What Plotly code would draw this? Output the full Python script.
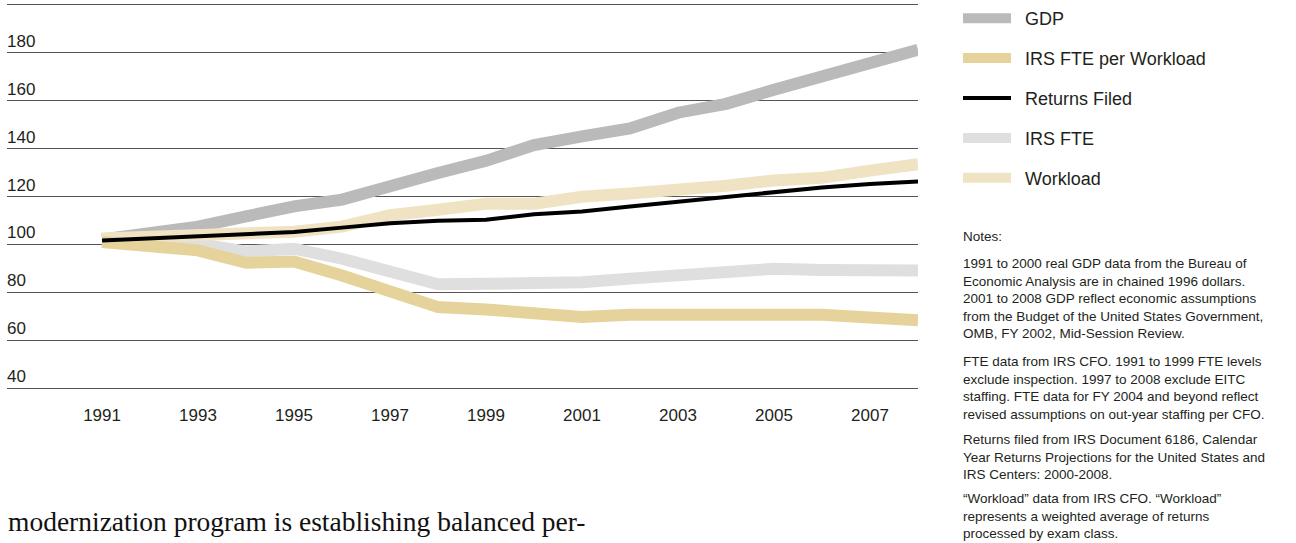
import plotly.graph_objects as go

# ---------------- data (index values) ----------------
years = list(range(1991, 2009))
gdp = [102.1, 104.7, 107.4, 111.7, 115.9, 118.7, 124.6, 129.8, 134.9, 141.5,
       145.1, 148.4, 155.0, 158.7, 164.6, 170.2, 176.0, 181.3]
fte_per_workload = [101.0, 99.5, 97.5, 92.3, 92.8, 87.0, 80.5, 73.8, 72.8, 71.7,
                    69.7, 70.6, 71.0, 71.0, 70.6, 70.6, 69.7, 68.3]
returns_filed = [101.6, 102.5, 103.3, 104.2, 105.2, 107.0, 108.8, 109.9, 110.3, 112.6,
                 113.7, 115.8, 117.9, 119.9, 122.0, 123.8, 125.2, 126.3]
irs_fte = [101.5, 101.0, 100.3, 97.0, 98.2, 94.0, 89.0, 83.3, 83.5, 83.5,
           84.2, 85.7, 86.8, 87.8, 89.8, 89.3, 89.1, 89.1]
workload = [102.5, 103.0, 103.5, 104.2, 105.3, 107.4, 112.2, 114.5, 117.0, 117.0,
            119.9, 121.3, 122.3, 124.5, 126.7, 127.8, 130.8, 133.5]

x_tick_years = [1991, 1993, 1995, 1997, 1999, 2001, 2003, 2005, 2007]
y_tick_vals = [40, 60, 80, 100, 120, 140, 160, 180, 200]
y_tick_text = ["40", "60", "80", "100", "120", "140", "160", "180", ""]

notes_title = "Notes:"
notes = [
    "1991 to 2000 real GDP data from the Bureau of<br>"
    "Economic Analysis are in chained 1996 dollars.<br>"
    "2001 to 2008 GDP reflect economic assumptions<br>"
    "from the Budget of the United States Government,<br>"
    "OMB, FY 2002, Mid-Session Review.",
    "FTE data from IRS CFO. 1991 to 1999 FTE levels<br>"
    "exclude inspection. 1997 to 2008 exclude EITC<br>"
    "staffing. FTE data for FY 2004 and beyond reflect<br>"
    "revised assumptions on out-year staffing per CFO.",
    "Returns filed from IRS Document 6186, Calendar<br>"
    "Year Returns Projections for the United States and<br>"
    "IRS Centers: 2000-2008.",
    "\u201cWorkload\u201d data from IRS CFO. \u201cWorkload\u201d<br>"
    "represents a weighted average of returns<br>"
    "processed by exam class.",
]
body_text = "modernization program is establishing balanced per-"

# ---------------- figure ----------------
W, H = 1296, 543
ML, MR, MT, MB = 7, 378, 5, 155
plot_h = H - MT - MB
plot_w = W - ML - MR


def py(p):
    return (H - MB - p) / plot_h


def px(p):
    return (p - ML) / plot_w


sans = "Liberation Sans, Arial, sans-serif"
txt = "#231f20"
grid = "#555555"

series = [
    # name, values, color, width, legend rank (draw order = list order)
    ("IRS FTE", irs_fte, "#dfdfdf", 12, 4),
    ("GDP", gdp, "#bababa", 12, 1),
    ("Workload", workload, "#f0e3c3", 12, 5),
    ("IRS FTE per Workload", fte_per_workload, "#e6d39c", 12, 2),
    ("Returns Filed", returns_filed, "#000000", 4, 3),
]

pad = "\u2002"  # small visual gap between legend swatch and label

fig = go.Figure()
for name, vals, color, width, rank in series:
    fig.add_trace(go.Scatter(
        x=years, y=vals, name=pad + name, mode="lines",
        line=dict(color=color, width=width),
        legendrank=rank, legendgroup=name,
        hoverinfo="skip",
    ))

fig.update_layout(
    width=W, height=H,
    margin=dict(l=ML, r=MR, t=MT, b=MB, autoexpand=False),
    paper_bgcolor="white", plot_bgcolor="white",
    font=dict(family=sans, size=17, color=txt),
    showlegend=True,
    legend=dict(
        xref="container", yref="container",
        x=958 / W, xanchor="left", y=1 + 6 / H, yanchor="top",
        font=dict(family=sans, size=18, color=txt),
        tracegroupgap=13.5, itemwidth=48,
        bgcolor="rgba(0,0,0,0)",
    ),
    xaxis=dict(
        range=[1989.02, 2008], tickmode="array", tickvals=x_tick_years,
        ticktext=[str(v) for v in x_tick_years],
        showgrid=False, zeroline=False,
        showline=True, mirror=True, linecolor=grid, linewidth=1.3,
        ticks="", automargin=False,
        ticklabelstandoff=11,
        tickfont=dict(family=sans, size=17, color=txt),
        fixedrange=True,
    ),
    yaxis=dict(
        range=[40, 200], tickmode="array", tickvals=y_tick_vals, ticktext=y_tick_text,
        showgrid=True, gridcolor=grid, gridwidth=1.3,
        zeroline=False, showline=False, ticks="", automargin=False,
        ticklabelposition="inside top",
        ticklabelstandoff=-3,
        tickfont=dict(family=sans, size=17, color=txt),
        fixedrange=True,
    ),
)

# notes text
note_font = dict(family=sans, size=13.5, color=txt)
fig.add_annotation(text=notes_title, xref="paper", yref="paper",
                   x=px(961), y=py(236.5), xanchor="left", yanchor="middle",
                   showarrow=False, align="left", font=note_font)
para_tops = [263.3, 361.5, 439.3, 498.3]
for para, top in zip(notes, para_tops):
    fig.add_annotation(text=para, xref="paper", yref="paper",
                       x=px(961), y=py(top - 9.8), xanchor="left", yanchor="top",
                       showarrow=False, align="left", font=note_font)

fig.add_annotation(text=body_text, xref="paper", yref="paper",
                   x=px(6), y=py(521), xanchor="left", yanchor="middle",
                   showarrow=False, align="left",
                   font=dict(family="Liberation Serif, Times New Roman, serif", size=27.5,
                             color="#111111"))

fig.write_html("out.html")
